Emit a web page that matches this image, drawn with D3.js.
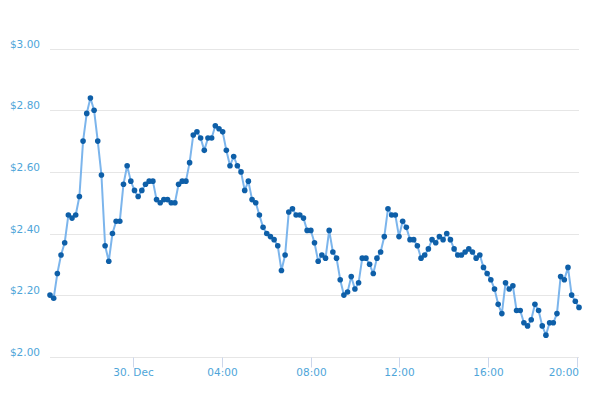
<!DOCTYPE html>
<html>
<head>
<meta charset="utf-8">
<script src="https://cdn.jsdelivr.net/npm/d3@7"></script>
<style>
    html, body { margin:0; padding:0; background:#fff; }
    #chart { width:589px; height:393px; }
    text { font-family:"DejaVu Sans", Verdana, sans-serif; }
</style>
</head>
<body>
<div id="chart"></div>
<script>

//******************************************************************************
//**  Data
//******************************************************************************
var startTime = Date.UTC(2013, 11, 29, 20, 15);
var stepMinutes = 9.94;

var prices = [
    2.20,2.19,2.27,2.33,2.37,2.46,2.45,2.46,2.52,2.70,2.79,2.84,2.80,2.70,2.59,2.36,2.31,2.40,
    2.44,2.44,2.56,2.62,2.57,2.54,2.52,2.54,2.56,2.57,2.57,2.51,2.50,2.51,2.51,2.50,2.50,2.56,
    2.57,2.57,2.63,2.72,2.73,2.71,2.67,2.71,2.71,2.75,2.74,2.73,2.67,2.62,2.65,2.62,2.60,2.54,
    2.57,2.51,2.50,2.46,2.42,2.40,2.39,2.38,2.36,2.28,2.33,2.47,2.48,2.46,2.46,2.45,2.41,2.41,2.37,
    2.31,2.33,2.32,2.41,2.34,2.32,2.25,2.20,2.21,2.26,2.22,2.24,2.32,2.32,2.30,2.27,2.32,2.34,
    2.39,2.48,2.46,2.46,2.39,2.44,2.42,2.38,2.38,2.36,2.32,2.33,2.35,2.38,2.37,2.39,2.38,2.40,
    2.38,2.35,2.33,2.33,2.34,2.35,2.34,2.32,2.33,2.29,2.27,2.25,2.22,2.17,2.14,2.24,2.22,2.23,
    2.15,2.15,2.11,2.10,2.12,2.17,2.15,2.10,2.07,2.11,2.11,2.14,2.26,2.25,2.29,2.20,2.18,2.16
];

var yTicks = [2.00, 2.20, 2.40, 2.60, 2.80, 3.00];


//******************************************************************************
//**  Chart
//******************************************************************************
var width = 589;
var height = 393;
var margin = {top: 48.7, right: 10, bottom: 36.3, left: 50};

var data = prices.map(function(p, i){
    return { date: new Date(startTime + i*stepMinutes*60000), value: p };
});

var svg = d3.select("#chart").append("svg")
    .attr("width", width)
    .attr("height", height);

var x = d3.scaleUtc()
    .domain(d3.extent(data, function(d){ return d.date; }))
    .range([margin.left, width - margin.right]);

var y = d3.scaleLinear()
    .domain([2, 3])
    .range([height - margin.bottom, margin.top]);

var labelColor = "#4ea5d9";

//**************************************************************************
//** Grid + y labels
//**************************************************************************
var grid = svg.append("g");
yTicks.forEach(function(t){
    var yy = Math.round(y(t)) + 0.5;
    grid.append("line")
        .attr("x1", margin.left).attr("x2", width - margin.right)
        .attr("y1", yy).attr("y2", yy)
        .attr("stroke", "#e6e6e6")
        .attr("stroke-width", 1);
    grid.append("text")
        .attr("x", 40)
        .attr("y", yy - 1.5)
        .attr("text-anchor", "end")
        .attr("font-size", "10.5px")
        .attr("fill", labelColor)
        .text("$" + d3.format(".2f")(t));
});

//**************************************************************************
//** X axis
//**************************************************************************
var xTicks = x.ticks(d3.utcHour.every(4));
var fmtTime = d3.utcFormat("%H:%M");
var fmtDay = d3.utcFormat("%-d. %b");
var xAxis = svg.append("g");
xTicks.forEach(function(t){
    var xx = Math.round(x(t)) + 0.5;
    var y0 = Math.round(y(2)) + 0.5;
    xAxis.append("line")
        .attr("x1", xx).attr("x2", xx)
        .attr("y1", y0).attr("y2", y0 + 10)
        .attr("stroke", "#ccd6eb");
    var label = xAxis.append("text")
        .attr("x", xx)
        .attr("y", 376)
        .attr("text-anchor", "middle")
        .attr("font-size", "10.5px")
        .attr("fill", labelColor)
        .text(t.getUTCHours() === 0 ? fmtDay(t) : fmtTime(t));

  //keep the last label inside the plot edge
    var w = label.node().getComputedTextLength();
    var maxX = width - margin.right;
    if (xx + w/2 > maxX){
        label.attr("text-anchor", "end").attr("x", maxX);
    }
});

//**************************************************************************
//** Series
//**************************************************************************
var line = d3.line()
    .x(function(d){ return x(d.date); })
    .y(function(d){ return y(d.value); });

svg.append("path")
    .datum(data)
    .attr("d", line)
    .attr("fill", "none")
    .attr("stroke", "#7cb5ec")
    .attr("stroke-width", 2)
    .attr("stroke-linejoin", "round");

svg.append("g").selectAll("circle")
    .data(data)
    .enter()
    .append("circle")
    .attr("cx", function(d){ return x(d.date); })
    .attr("cy", function(d){ return y(d.value); })
    .attr("r", 2.8)
    .attr("fill", "#0e5fa8");

</script>
</body>
</html>
